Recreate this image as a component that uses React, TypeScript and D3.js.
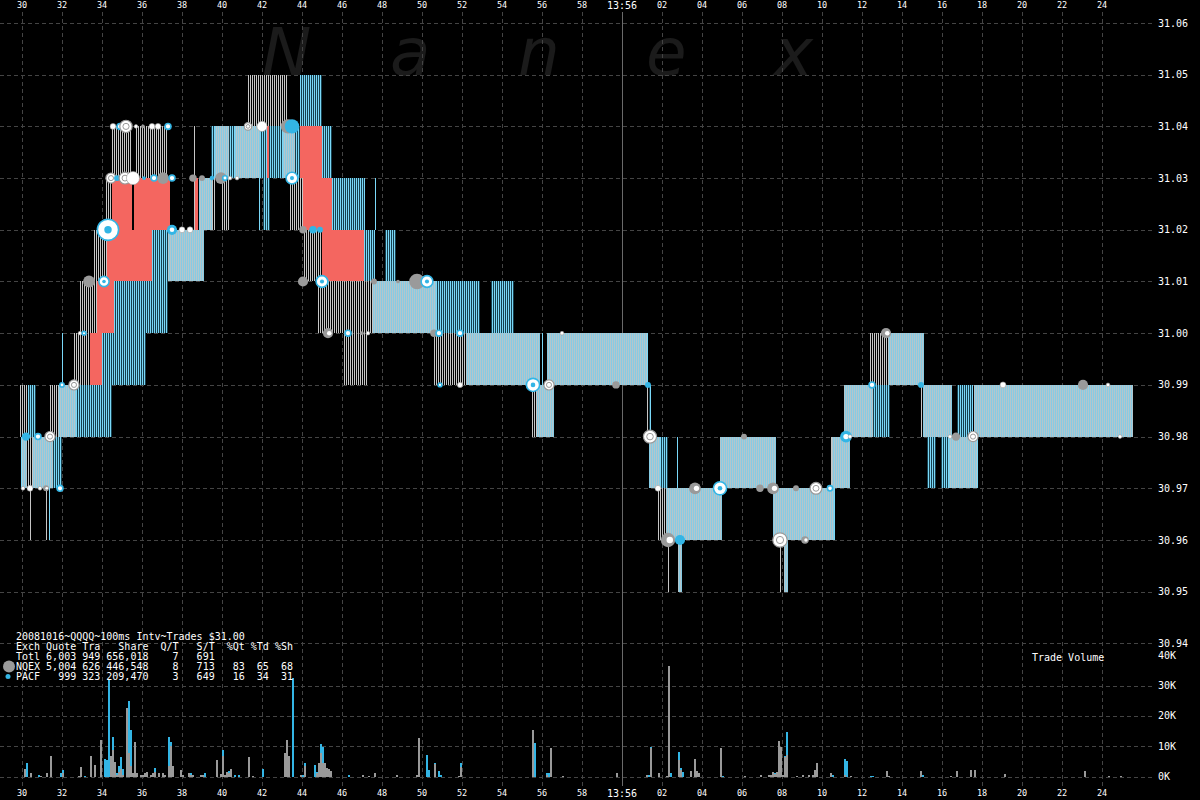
import React from 'react';
import * as d3 from 'd3';

// time = seconds after 13:55:00
const timeTicks: number[] = d3.range(30, 86, 2);
const priceTicks: number[] = d3.range(0, 13).map((i) => +(30.94 + i * 0.01).toFixed(2));
const volumeTicks: number[] = [0, 10, 20, 30, 40];
const volumeGrid: number[] = [0, 10, 20, 30];

// quote spans: [tStart, tEnd, low, high, kind]  g=NQEX stripes, c=PACF stripes, s=both, r=crossed
type Span = [number, number, number, number, string];
const quoteSpans: Span[] = [
  [29.9, 30.3, 30.98, 30.99, 'g'],
  [30.3, 30.7, 30.98, 30.99, 'c'],
  [29.95, 30.0, 30.97, 30.98, 'c'],
  [30.0, 30.25, 30.97, 30.98, 's'],
  [30.25, 30.55, 30.97, 30.98, 'g'],
  [30.55, 31.55, 30.97, 30.98, 's'],
  [31.55, 32.0, 30.97, 30.98, 'c'],
  [30.4, 30.45, 30.96, 30.97, 'g'],
  [31.2, 31.25, 30.96, 30.97, 'g'],
  [31.35, 31.4, 30.96, 30.97, 'c'],
  [31.4, 31.8, 30.98, 30.99, 'g'],
  [31.8, 32.7, 30.98, 30.99, 's'],
  [32.7, 34.5, 30.98, 30.99, 'c'],
  [32.0, 32.05, 30.99, 31.0, 'c'],
  [32.6, 33.4, 30.99, 31.0, 'g'],
  [33.4, 34.0, 30.99, 31.0, 'r'],
  [34.0, 36.2, 30.99, 31.0, 'c'],
  [32.9, 33.75, 31.0, 31.01, 'g'],
  [33.75, 34.6, 31.0, 31.01, 'r'],
  [34.6, 37.3, 31.0, 31.01, 'c'],
  [33.6, 34.25, 31.01, 31.02, 'g'],
  [34.25, 36.5, 31.01, 31.02, 'r'],
  [36.5, 37.3, 31.01, 31.02, 'c'],
  [37.3, 39.1, 31.01, 31.02, 's'],
  [34.2, 34.5, 31.02, 31.03, 'g'],
  [34.5, 35.5, 31.02, 31.03, 'r'],
  [35.6, 37.4, 31.02, 31.03, 'r'],
  [34.5, 35.5, 31.03, 31.04, 'g'],
  [35.65, 37.3, 31.03, 31.04, 'g'],
  [38.6, 38.65, 31.02, 31.04, 'g'],
  [38.65, 38.8, 31.02, 31.03, 'r'],
  [38.85, 39.5, 31.02, 31.03, 's'],
  [39.5, 39.7, 31.02, 31.03, 'g'],
  [40.0, 40.4, 31.02, 31.03, 'g'],
  [39.45, 39.65, 31.03, 31.04, 'c'],
  [39.65, 40.35, 31.03, 31.04, 's'],
  [40.35, 40.65, 31.03, 31.04, 'c'],
  [40.65, 41.9, 31.03, 31.04, 's'],
  [41.9, 42.25, 31.03, 31.04, 'c'],
  [42.25, 42.35, 31.03, 31.04, 'r'],
  [42.35, 43.05, 31.03, 31.04, 'c'],
  [43.05, 43.65, 31.03, 31.04, 's'],
  [43.65, 43.9, 31.03, 31.04, 'c'],
  [43.9, 45.0, 31.03, 31.04, 'r'],
  [45.0, 45.5, 31.03, 31.04, 'c'],
  [41.3, 43.25, 31.04, 31.05, 'g'],
  [43.9, 45.0, 31.04, 31.05, 'c'],
  [41.85, 41.9, 31.02, 31.03, 'c'],
  [42.05, 42.4, 31.02, 31.03, 'c'],
  [43.4, 44.05, 31.02, 31.03, 'g'],
  [44.05, 45.5, 31.02, 31.03, 'r'],
  [45.5, 47.15, 31.02, 31.03, 'c'],
  [47.65, 47.7, 31.02, 31.03, 'c'],
  [44.05, 45.0, 31.01, 31.02, 'g'],
  [45.0, 47.1, 31.01, 31.02, 'r'],
  [47.1, 47.65, 31.01, 31.02, 'c'],
  [48.15, 48.7, 31.01, 31.02, 'c'],
  [44.8, 47.55, 31.0, 31.01, 'g'],
  [47.55, 50.7, 31.0, 31.01, 's'],
  [50.7, 52.9, 31.0, 31.01, 'c'],
  [53.45, 54.6, 31.0, 31.01, 'c'],
  [46.05, 47.3, 30.99, 31.0, 'g'],
  [50.6, 52.2, 30.99, 31.0, 'g'],
  [52.2, 55.9, 30.99, 31.0, 's'],
  [56.0, 56.05, 30.99, 31.0, 'c'],
  [56.25, 61.25, 30.99, 31.0, 's'],
  [61.25, 61.3, 30.99, 31.0, 'c'],
  [55.5, 55.75, 30.98, 30.99, 'g'],
  [55.75, 56.6, 30.98, 30.99, 's'],
  [61.25, 61.3, 30.98, 30.99, 'g'],
  [61.35, 61.45, 30.98, 30.99, 'c'],
  [61.35, 61.9, 30.97, 30.98, 's'],
  [61.9, 62.3, 30.97, 30.98, 'c'],
  [62.75, 62.8, 30.97, 30.98, 'c'],
  [61.8, 62.2, 30.96, 30.97, 'g'],
  [62.2, 65.0, 30.96, 30.97, 's'],
  [62.3, 62.35, 30.95, 30.96, 'g'],
  [62.8, 63.0, 30.95, 30.96, 's'],
  [64.9, 67.7, 30.97, 30.98, 's'],
  [67.55, 70.6, 30.96, 30.97, 's'],
  [70.6, 70.65, 30.96, 30.97, 'c'],
  [67.9, 67.95, 30.95, 30.96, 'g'],
  [68.1, 68.3, 30.95, 30.96, 's'],
  [70.45, 70.5, 30.97, 30.98, 'g'],
  [70.5, 71.4, 30.97, 30.98, 's'],
  [71.1, 72.55, 30.98, 30.99, 's'],
  [72.55, 73.4, 30.98, 30.99, 'c'],
  [72.4, 73.3, 30.99, 31.0, 'g'],
  [73.3, 75.1, 30.99, 31.0, 's'],
  [74.95, 75.0, 30.98, 30.99, 'g'],
  [75.05, 76.5, 30.98, 30.99, 's'],
  [76.75, 77.55, 30.98, 30.99, 'c'],
  [77.6, 85.55, 30.98, 30.99, 's'],
  [75.25, 75.7, 30.97, 30.98, 'c'],
  [75.95, 76.35, 30.97, 30.98, 'c'],
  [76.35, 77.75, 30.97, 30.98, 's'],
  [77.75, 77.8, 30.97, 30.98, 'c'],
];

// trades: [time, price, shares, kind]
type Trade = [number, number, number, string];
const trades: Trade[] = [
  [30.05, 30.97, 200, 'w'], [30.4, 30.97, 500, 'w'], [30.9, 30.97, 200, 'w'], [31.2, 30.97, 500, 'gw'], [31.9, 30.97, 500, 'wc'],
  [30.2, 30.98, 1000, 'c'], [30.8, 30.98, 500, 'wc'], [31.4, 30.98, 1500, 'wg'],
  [32.0, 30.99, 500, 'cw'], [32.6, 30.99, 1500, 'wg'],
  [32.9, 31.0, 200, 'w'], [33.1, 31.0, 200, 'wc'],
  [33.35, 31.01, 2000, 'g'], [34.1, 31.01, 1500, 'wc'],
  [34.3, 31.02, 6500, 'wc'], [37.5, 31.02, 1500, 'cw'], [38.0, 31.02, 500, 'w'], [38.4, 31.02, 500, 'w'],
  [34.45, 31.03, 1500, 'wg'], [34.75, 31.03, 500, 'c'], [35.15, 31.03, 2000, 'wg'], [35.55, 31.03, 2500, 'w'],
  [36.1, 31.03, 200, 'c'], [36.6, 31.03, 500, 'wc'], [37.05, 31.03, 2000, 'g'], [37.5, 31.03, 500, 'wc'],
  [38.55, 31.03, 800, 'g'], [39.0, 31.03, 500, 'g'], [39.5, 31.03, 300, 'c'], [39.95, 31.03, 2000, 'g'],
  [40.15, 31.03, 300, 'wc'], [40.4, 31.03, 200, 'w'], [40.75, 31.03, 200, 'w'], [43.5, 31.03, 2000, 'wc'],
  [34.55, 31.04, 500, 'w'], [34.9, 31.04, 500, 'wc'], [35.2, 31.04, 2200, 'wg'], [35.7, 31.04, 200, 'w'],
  [36.05, 31.04, 200, 'g'], [36.5, 31.04, 500, 'w'], [36.8, 31.04, 500, 'w'], [37.3, 31.04, 500, 'wc'],
  [41.3, 31.04, 800, 'wg'], [42.0, 31.04, 1500, 'w'], [43.3, 31.04, 3000, 'g'], [43.5, 31.04, 3000, 'c'],
  [44.05, 31.02, 800, 'g'], [44.55, 31.02, 800, 'c'], [44.9, 31.02, 500, 'c'],
  [44.05, 31.01, 1500, 'g'], [45.0, 31.01, 2000, 'wc'], [47.6, 31.01, 500, 'g'], [48.8, 31.01, 200, 'g'],
  [49.75, 31.01, 3500, 'g'], [50.25, 31.01, 2000, 'wc'],
  [45.3, 31.0, 1500, 'gw'], [46.3, 31.0, 500, 'wc'], [47.0, 31.0, 200, 'g'], [47.3, 31.0, 200, 'w'],
  [50.6, 31.0, 800, 'g'], [50.85, 31.0, 500, 'wc'], [51.9, 31.0, 500, 'wc'], [57.0, 31.0, 200, 'w'],
  [50.9, 30.99, 200, 'wc'], [51.9, 30.99, 400, 'w'], [55.55, 30.99, 2500, 'wc'], [56.35, 30.99, 1500, 'wg'],
  [59.7, 30.99, 800, 'g'], [61.3, 30.99, 500, 'c'],
  [61.4, 30.98, 2500, 'wg'], [66.1, 30.98, 500, 'g'], [71.2, 30.98, 2000, 'cw'], [71.4, 30.98, 200, 'w'],
  [76.4, 30.98, 200, 'w'], [76.7, 30.98, 1000, 'g'], [77.55, 30.98, 1500, 'wg'], [84.9, 30.98, 200, 'w'],
  [61.8, 30.97, 500, 'w'], [63.65, 30.97, 2000, 'gw'], [64.9, 30.97, 2500, 'wc'], [66.9, 30.97, 800, 'g'],
  [67.55, 30.97, 2000, 'gw'], [68.7, 30.97, 500, 'g'], [69.7, 30.97, 2000, 'wg'], [70.4, 30.97, 400, 'wc'],
  [62.3, 30.96, 3000, 'gw'], [62.9, 30.96, 1500, 'c'], [67.9, 30.96, 3000, 'wg'], [69.15, 30.96, 800, 'gw'],
  [72.5, 30.99, 500, 'wc'], [74.95, 30.99, 500, 'c'], [79.05, 30.99, 500, 'w'], [83.05, 30.99, 1500, 'g'], [84.3, 30.99, 200, 'w'],
  [73.2, 31.0, 1500, 'gw'],
];

// trade volume per 100ms: [time, NQEX K shares, PACF K shares]
type Vol = [number, number, number];
const volumes: Vol[] = [
  [30.1, 2.4, 0], [30.2, 0, 4.4], [30.4, 1.1, 0], [30.8, 0, 0.5], [30.9, 0.3, 0], [31.2, 1.3, 0], [31.4, 6.8, 0],
  [31.9, 0, 1.3], [32.0, 1.1, 1.1], [32.8, 0.2, 0], [32.9, 3.2, 0], [33.1, 0, 0.2], [33.4, 6.8, 0], [33.6, 3.8, 0],
  [33.9, 12.0, 0], [34.1, 0, 5.9], [34.2, 0, 5.5], [34.3, 0, 31.7], [34.4, 6.8, 0], [34.5, 8.8, 4.4], [34.6, 4.8, 0],
  [34.7, 0.5, 0.8], [34.8, 1.5, 2.0], [34.9, 2.4, 4.2], [35.0, 0.5, 1.9], [35.2, 22.7, 0], [35.3, 7.9, 17.0],
  [35.4, 3.5, 11.7], [35.5, 1.1, 0], [35.6, 11.5, 0], [35.7, 1.1, 0], [35.9, 0.5, 0], [36.0, 0.7, 0], [36.1, 1.3, 0],
  [36.2, 1.6, 0], [36.4, 0.7, 0], [36.5, 1.1, 0], [36.6, 1.5, 1.2], [36.8, 1.3, 0], [37.0, 1.1, 0], [37.1, 0.7, 0],
  [37.3, 3.5, 9.7], [37.4, 10.1, 1.3], [37.5, 3.5, 0], [37.9, 2.1, 0], [38.0, 0.5, 0], [38.3, 1.1, 0], [38.4, 0.6, 0.6],
  [38.5, 0.7, 0], [38.9, 0.7, 0], [39.0, 0.7, 0], [39.1, 0, 1.1], [39.7, 5.4, 0], [39.9, 1.0, 0], [40.0, 6.8, 2.0],
  [40.1, 0.7, 0], [40.2, 1.6, 0], [40.3, 1.1, 0.8], [40.4, 2.4, 0], [40.6, 0, 0.4], [40.8, 0, 0.4], [41.3, 6.5, 0],
  [41.5, 0.2, 0], [42.0, 0, 2.4], [43.1, 7.7, 0], [43.2, 12.0, 0], [43.3, 6.8, 0], [43.5, 0, 32.6], [43.9, 0.5, 0],
  [44.0, 0, 0.7], [44.1, 3.5, 0.9], [44.6, 0, 3.8], [44.7, 1.3, 0.4], [44.8, 4.4, 0], [44.9, 7.9, 3.0], [45.0, 4.6, 5.3],
  [45.1, 4.4, 0], [45.2, 2.7, 0], [45.3, 2.4, 0], [45.4, 1.9, 0], [46.3, 0, 0.5], [47.0, 0.5, 0], [47.3, 0.2, 0],
  [47.6, 1.1, 0], [48.7, 0.7, 0],
  [49.7, 0.5, 0], [49.8, 12.6, 0], [50.2, 0, 7.3], [50.3, 0, 2.2], [50.6, 4.1, 0.3], [50.8, 0, 1.9], [50.9, 0, 0.5],
  [51.8, 0.2, 0], [51.9, 3.2, 1.2], [55.5, 15.2, 0], [55.6, 0, 11.0], [56.2, 0.5, 0.6], [56.3, 0, 1.1], [56.4, 9.3, 0],
  [57.0, 0.2, 0], [59.7, 1.1, 0], [61.2, 0.5, 0], [61.3, 0, 0.5], [61.4, 9.4, 0.3], [61.8, 1.1, 0], [62.2, 0.2, 0],
  [62.3, 36.4, 0], [62.4, 0, 1.1], [62.8, 5.5, 2.6], [62.9, 2.2, 0.5], [63.0, 0, 1.5], [63.4, 1.9, 0], [63.6, 5.7, 0],
  [63.7, 1.9, 0], [63.8, 1.1, 0], [64.9, 9.3, 0], [65.0, 0, 0.2], [66.1, 0.2, 0], [66.9, 0.5, 0], [67.3, 0.5, 0],
  [67.4, 0.5, 0], [67.5, 1.5, 0], [67.6, 0.9, 0.3], [67.7, 1.5, 0], [67.8, 11.7, 0], [67.9, 9.8, 0], [68.0, 0.5, 0],
  [68.1, 6.6, 0.3], [68.2, 7.0, 7.7], [68.7, 0.2, 0],
  [69.0, 0.5, 0], [69.3, 0.5, 0], [69.5, 0.5, 0], [69.6, 2.2, 0], [69.7, 4.4, 0], [70.4, 1.1, 0], [70.5, 0, 0.5],
  [71.1, 0.5, 5.2], [71.2, 0, 5.2], [71.4, 0.2, 0], [72.4, 0, 0.2], [72.5, 0, 0.2], [73.2, 1.9, 0], [73.3, 0.2, 0],
  [74.9, 1.9, 0], [75.0, 0, 0.5], [76.4, 0.2, 0], [76.7, 1.9, 0], [77.4, 2.2, 0], [77.6, 2.2, 0], [79.1, 0.8, 0],
  [83.1, 1.9, 0], [84.3, 0.2, 0], [84.9, 0.2, 0],
];

const legendLines: string[] = [
  '20081016~QQQQ~100ms Intv~Trades $31.00',
  'Exch Quote Tra   Share  Q/T   S/T  %Qt %Td %Sh',
  'Totl 6,003 949 656,018    7   691',
  'NQEX 5,004 626 446,548    8   713   83  65  68',
  'PACF   999 323 209,470    3   649   16  34  31',
];

const watermark: string[] = ['N', 'a', 'n', 'e', 'x'];

const GRAY = '#c6c6c6';
const CYAN = '#7ad8f8';
const CYAN_GAP = '#17404e';
const SOLID_A = '#86cbe4';
const SOLID_B = '#b4c6cc';
const RED = '#f46660';
const DOT_GRAY = '#9a9a9a';
const DOT_CYAN = '#33b5e5';
const GRID = '#444444';
const MONO = '"DejaVu Sans Mono", "Liberation Mono", monospace';

const x = d3.scaleLinear().domain([28.9, 86.65]).range([0, 1155]);
const y = d3.scaleLinear().domain([30.94, 31.06]).range([643.4, 23]);
const v = d3.scaleLinear().domain([0, 40]).range([776.7, 655.1]);
const r = d3.scaleSqrt().domain([0, 7000]).range([0, 11]);

const fmtTime = (t: number) => (t === 60 ? '13:56' : t < 60 ? String(t) : String(t - 60).padStart(2, '0'));

// build 1px stripe paths for all quote spans
function buildStripes() {
  const out: Record<string, string> = { gray: '', cyan: '', cgap: '', red: '', sa: '', sb: '' };
  for (const s of quoteSpans) {
    const x0 = Math.round(x(s[0]));
    const x1 = Math.max(x0 + 1, Math.round(x(s[1])));
    const y0 = Math.round(y(s[3]));
    const h = Math.round(y(s[2])) - y0;
    const k = s[4];
    if (k === 'r') {
      out.red += `M${x0},${y0}h${x1 - x0}v${h}h${-(x1 - x0)}Z`;
      continue;
    }
    if (x1 - x0 === 1) {
      const seg = `M${x0},${y0}h1v${h}h-1Z`;
      if (k === 'c') out.cyan += seg; else if (k === 'g') out.gray += seg; else out.sa += seg;
      continue;
    }
    for (let px = x0; px < x1; px++) {
      const seg = `M${px},${y0}h1v${h}h-1Z`;
      const even = px % 2 === 0;
      if (k === 'g') { if (even) out.gray += seg; }
      else if (k === 'c') { if (even) out.cyan += seg; else out.cgap += seg; }
      else { if (even) out.sb += seg; else out.sa += seg; }
    }
  }
  return out;
}

function TradeDot({ d }: { d: Trade }) {
  const [t, p, s, k] = d;
  const cx = x(t), cy = y(p), rr = Math.max(1.8, r(s));
  switch (k) {
    case 'g':
      return <circle cx={cx} cy={cy} r={rr} fill={DOT_GRAY} />;
    case 'c':
      return <circle cx={cx} cy={cy} r={rr} fill={DOT_CYAN} />;
    case 'w':
      return <circle cx={cx} cy={cy} r={rr} fill="#fff" stroke={DOT_GRAY} strokeWidth={0.6} />;
    case 'wc':
      return (
        <g>
          <circle cx={cx} cy={cy} r={rr} fill="#fff" stroke={DOT_CYAN} strokeWidth={1.6} />
          {rr > 4 && <circle cx={cx} cy={cy} r={rr * 0.35} fill={DOT_CYAN} />}
        </g>
      );
    case 'wg':
      return (
        <g>
          <circle cx={cx} cy={cy} r={rr} fill="#fff" stroke={DOT_GRAY} strokeWidth={1.2} />
          <circle cx={cx} cy={cy} r={rr * 0.5} fill="none" stroke={DOT_GRAY} strokeWidth={1} />
        </g>
      );
    case 'gw':
      return (
        <g>
          <circle cx={cx} cy={cy} r={rr} fill={DOT_GRAY} />
          <circle cx={cx + rr * 0.25} cy={cy} r={rr * 0.45} fill="#fff" />
        </g>
      );
    case 'cw':
      return (
        <g>
          <circle cx={cx} cy={cy} r={rr} fill={DOT_CYAN} />
          <circle cx={cx} cy={cy} r={rr * 0.45} fill="#fff" />
        </g>
      );
    default:
      return null;
  }
}

export default function App() {
  const bw = x(30.1) - x(30);
  const stripes = buildStripes();
  return (
    <svg width={1200} height={800} style={{ position: 'absolute', left: 0, top: 0, background: '#000' }}>
      <rect width={1200} height={800} fill="#000" />

      {/* watermark */}
      {watermark.map((c, i) => (
        <text key={i} x={262 + i * 128} y={75} fontFamily='"DejaVu Sans", sans-serif' fontStyle="italic"
          fontSize={66} fill="#1b1b1b">{c}</text>
      ))}

      {/* grid */}
      <g shapeRendering="crispEdges">
        {priceTicks.map((p) => (
          <line key={'hp' + p} x1={0} x2={1155} y1={Math.round(y(p)) + 0.5} y2={Math.round(y(p)) + 0.5}
            stroke={GRID} strokeDasharray="4 3" />
        ))}
        {volumeGrid.map((k) => (
          <line key={'hv' + k} x1={0} x2={1155} y1={Math.round(v(k)) + 0.5} y2={Math.round(v(k)) + 0.5}
            stroke={GRID} strokeDasharray="4 3" />
        ))}
        {timeTicks.filter((t) => t !== 60).map((t) => (
          <line key={'vt' + t} x1={Math.round(x(t)) + 0.5} x2={Math.round(x(t)) + 0.5} y1={12} y2={786}
            stroke={GRID} strokeDasharray="4 3" />
        ))}
        <line x1={Math.round(x(60)) + 0.5} x2={Math.round(x(60)) + 0.5} y1={12} y2={786} stroke="#6a6a6a" />
      </g>

      {/* quote spans */}
      <g shapeRendering="crispEdges">
        <path d={stripes.cgap} fill={CYAN_GAP} />
        <path d={stripes.gray} fill={GRAY} />
        <path d={stripes.cyan} fill={CYAN} />
        <path d={stripes.sb} fill={SOLID_B} />
        <path d={stripes.sa} fill={SOLID_A} />
        <path d={stripes.red} fill={RED} />
      </g>

      {/* trades */}
      <g>
        {trades.map((d, i) => <TradeDot key={i} d={d} />)}
      </g>

      {/* volume */}
      <g shapeRendering="crispEdges">
        {volumes.map((d, i) => {
          const x0 = Math.round(x(d[0]));
          const w = Math.max(2, Math.round(bw));
          return (
            <g key={i}>
              {d[1] > 0 && <rect x={x0} y={v(d[1])} width={w} height={v(0) - v(d[1])} fill={DOT_GRAY} />}
              {d[2] > 0 && <rect x={x0} y={v(d[1] + d[2])} width={w} height={v(d[1]) - v(d[1] + d[2])} fill={DOT_CYAN} />}
            </g>
          );
        })}
      </g>

      {/* axis labels */}
      <g fill="#fff" fontFamily={MONO}>
        {timeTicks.map((t) => (
          <g key={'tl' + t}>
            <text x={x(t)} y={t === 60 ? 9 : 8} textAnchor="middle" fontSize={t === 60 ? 10 : 8.5}>{fmtTime(t)}</text>
            <text x={x(t)} y={t === 60 ? 797 : 796} textAnchor="middle" fontSize={t === 60 ? 10 : 8.5}>{fmtTime(t)}</text>
          </g>
        ))}
        {priceTicks.map((p) => (
          <text key={'pl' + p} x={1158} y={y(p) + 3.5} fontSize={10}>{p.toFixed(2)}</text>
        ))}
        {volumeTicks.map((k) => (
          <text key={'vl' + k} x={1158} y={v(k) + 3.5} fontSize={10}>{k + 'K'}</text>
        ))}
        <text x={1032} y={661} fontSize={10}>Trade Volume</text>
      </g>

      {/* legend */}
      <circle cx={9} cy={666.5} r={6} fill={DOT_GRAY} />
      <circle cx={8} cy={676.5} r={2.5} fill={DOT_CYAN} />
      <g fill="#fff" fontFamily={MONO} fontSize={10} style={{ whiteSpace: 'pre' }}>
        {legendLines.map((l, i) => (
          <text key={i} x={16} y={640 + i * 9.9} xmlSpace="preserve">{l}</text>
        ))}
      </g>
    </svg>
  );
}
